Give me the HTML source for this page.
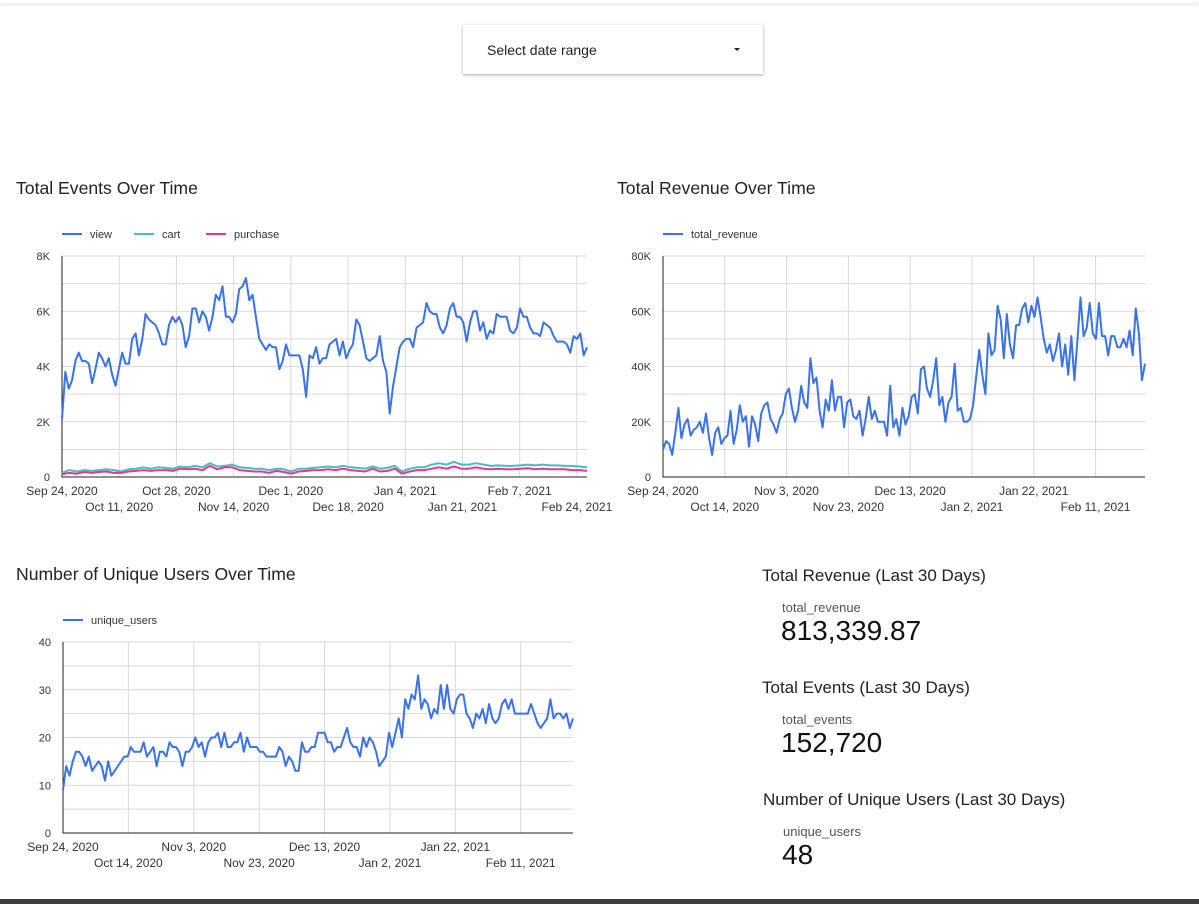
<!DOCTYPE html>
<html><head><meta charset="utf-8">
<style>
body{margin:0;width:1199px;height:904px;background:#fff;font-family:"Liberation Sans",Arial,sans-serif;position:relative;overflow:hidden}
.topbar{position:absolute;left:0;top:0;width:1199px;height:3px;box-shadow:0 1px 4px rgba(0,0,0,.15)}
.dd{position:absolute;left:463px;top:25px;width:300px;height:49px;background:#fff;box-shadow:0 1px 3px rgba(0,0,0,.35);font-size:14px;color:#222}
.dd span{position:absolute;left:24px;top:17px}
.dd i{position:absolute;left:271px;top:23px;width:0;height:0;border-left:3px solid transparent;border-right:3px solid transparent;border-top:3px solid #222}
.bottombar{position:absolute;left:0;top:899px;width:1199px;height:5px;background:#3c3c3c}
.lbl{position:absolute;font-size:17px;color:#222}
.sub{position:absolute;font-size:13px;color:#555}
.val{position:absolute;font-size:28px;color:#111}
svg{position:absolute;left:0;top:0}
</style></head><body>
<div class="topbar"></div>
<div class="dd"><span>Select date range</span><i></i></div>
<div class="lbl" style="left:762px;top:566px">Total Revenue (Last 30 Days)</div>
<div class="sub" style="left:782px;top:600px">total_revenue</div>
<div class="val" style="left:781px;top:615px">813,339.87</div>
<div class="lbl" style="left:762px;top:678px">Total Events (Last 30 Days)</div>
<div class="sub" style="left:782px;top:712px">total_events</div>
<div class="val" style="left:781px;top:727px">152,720</div>
<div class="lbl" style="left:763px;top:790px">Number of Unique Users (Last 30 Days)</div>
<div class="sub" style="left:783px;top:824px">unique_users</div>
<div class="val" style="left:782px;top:839px">48</div>
<div class="bottombar"></div>
<svg id="s" width="1199" height="904"></svg>
<script>
const viewData=[2.1,3.8,3.2,3.5,4.2,4.5,4.2,4.2,4.1,3.4,3.9,4.5,4.3,4.0,4.3,3.7,3.3,3.9,4.5,4.1,4.1,5.0,5.2,4.4,5.0,5.9,5.7,5.6,5.5,5.2,4.8,4.8,5.5,5.8,5.6,5.8,5.5,4.7,5.1,6.1,6.1,5.6,6.0,5.8,5.3,5.8,6.6,6.4,6.9,5.8,5.8,5.6,5.9,6.8,6.9,7.2,6.4,6.6,5.8,5.0,4.8,4.6,4.8,4.7,4.7,3.9,4.2,4.8,4.4,4.4,4.4,4.4,3.9,2.9,4.4,4.3,4.7,4.1,4.3,4.3,4.8,4.9,5.0,4.4,4.9,4.3,4.6,4.8,5.7,5.5,4.9,4.3,4.2,4.3,4.4,5.1,4.2,3.8,2.3,3.3,4.0,4.7,4.9,5.0,5.0,4.7,5.4,5.5,5.6,6.3,6.0,5.9,5.9,5.4,5.2,5.5,6.1,6.3,5.8,5.8,5.6,4.9,5.6,6.0,6.0,5.3,5.6,5.0,5.3,5.2,5.9,5.8,5.8,5.8,5.3,5.2,5.4,6.1,5.8,5.8,5.4,5.2,5.2,5.1,5.6,5.5,5.4,5.1,4.9,4.9,4.9,4.8,4.5,5.1,5.0,5.2,4.4,4.7];
const cartData=[0.15,0.25,0.2,0.25,0.22,0.25,0.28,0.25,0.2,0.28,0.3,0.35,0.3,0.35,0.33,0.3,0.38,0.35,0.4,0.35,0.5,0.38,0.4,0.45,0.35,0.33,0.3,0.3,0.25,0.3,0.28,0.2,0.3,0.3,0.33,0.35,0.38,0.35,0.4,0.35,0.33,0.3,0.38,0.3,0.33,0.4,0.2,0.3,0.35,0.35,0.45,0.5,0.45,0.55,0.45,0.45,0.5,0.45,0.4,0.42,0.4,0.4,0.42,0.45,0.42,0.45,0.42,0.42,0.4,0.4,0.38,0.35];
const purchaseData=[0.1,0.15,0.12,0.18,0.15,0.18,0.2,0.15,0.15,0.2,0.22,0.25,0.22,0.25,0.25,0.22,0.3,0.28,0.3,0.25,0.4,0.28,0.35,0.35,0.25,0.22,0.2,0.2,0.15,0.22,0.18,0.12,0.2,0.22,0.25,0.25,0.28,0.25,0.3,0.25,0.22,0.2,0.3,0.2,0.22,0.3,0.12,0.2,0.25,0.25,0.3,0.35,0.3,0.38,0.3,0.3,0.35,0.3,0.28,0.3,0.28,0.28,0.3,0.32,0.28,0.3,0.28,0.28,0.28,0.25,0.25,0.22];
const revenueData=[10,13,12,8,16,25,14,19,21,15,17,18,20,16,23,14,8,16,18,12,14,15,24,12,17,26,20,22,11,22,19,13,23,26,27,21,19,16,21,23,30,32,25,20,24,33,27,25,43,34,36,24,18,28,24,35,24,29,29,18,27,28,22,21,24,15,21,29,21,24,20,20,20,15,33,18,21,15,25,19,22,29,30,23,39,40,32,29,35,43,26,29,20,27,29,41,24,25,20,20,21,26,36,46,37,30,52,44,46,62,57,43,59,48,43,55,55,61,63,56,62,58,65,58,50,45,48,42,46,52,40,48,37,51,35,50,65,51,54,63,52,50,63,51,51,44,51,51,47,47,50,47,53,44,61,52,35,41];
const usersData=[9,14,12,15,17,17,16,14,16,13,14,15,14,11,15,12,13,14,15,16,16,18,17,17,17,19,16,17,18,14,17,17,16,19,18,18,17,14,17,17,18,20,18,19,16,19,20,20,21,18,21,18,18,19,19,21,17,20,18,18,18,17,17,16,16,16,16,18,17,14,16,15,13,13,19,17,17,18,18,21,21,21,19,19,17,18,18,20,22,19,18,18,16,20,18,20,19,17,14,15,16,21,18,21,24,20,28,26,29,28,33,26,28,27,24,26,25,31,26,31,26,25,28,29,29,25,24,22,25,24,26,23,27,24,23,24,27,28,26,28,25,25,25,25,25,27,25,23,22,23,24,28,24,25,25,24,25,22,24];
const c1Ticks=["0","2K","4K","6K","8K"];
const c1Dates=["Sep 24, 2020","Oct 11, 2020","Oct 28, 2020","Nov 14, 2020","Dec 1, 2020","Dec 18, 2020","Jan 4, 2021","Jan 21, 2021","Feb 7, 2021","Feb 24, 2021"];
const c2Ticks=["0","20K","40K","60K","80K"];
const c2Dates=["Sep 24, 2020","Oct 14, 2020","Nov 3, 2020","Nov 23, 2020","Dec 13, 2020","Jan 2, 2021","Jan 22, 2021","Feb 11, 2021"];
const c3Ticks=["0","10","20","30","40"];

const NS="http://www.w3.org/2000/svg";
const svg=document.getElementById('s');
function el(tag,attrs,txt){const e=document.createElementNS(NS,tag);for(const k in attrs)e.setAttribute(k,attrs[k]);if(txt!==undefined)e.textContent=txt;svg.appendChild(e);return e;}
function chart(o){
  const X=d=>o.l+d*(o.r-o.l)/156;
  const Y=v=>o.b-v/o.max*(o.b-o.t);
  let t=el('text',{x:o.tx,y:o.ty,'font-size':17.6,fill:'#222'},o.title);
  
  
  for(let i=0;i<=8;i++){const y=o.b-i*(o.b-o.t)/8;
    let g=el('line',{x1:o.l,x2:o.r,y1:y,y2:y,stroke:'#d9d9d9','stroke-width':1});
    
    }
  o.ticks.forEach((s,i)=>{const y=o.b-i*(o.b-o.t)/4;
    let tx=el('text',{x:o.l-12,y:y+4,'font-size':11,fill:'#333','text-anchor':'end'},s);
    
    });
  o.dates.forEach((s,i)=>{const x=X(i*o.step);
    if(i>0){let g=el('line',{x1:x,x2:x,y1:o.t,y2:o.b,stroke:'#d9d9d9','stroke-width':1});
      
      }
    let tx=el('text',{x:x,y:o.b+(i%2?34:18),'font-size':12,fill:'#333','text-anchor':'middle'},s);
    
    });
  let ax=el('path',{d:`M${o.l} ${o.t}V${o.b}H${o.r}`,stroke:'#222',fill:'none','stroke-width':1});
  
  
  let lx=o.l;
  o.series.forEach(sr=>{
    const n=sr.data.length;
    const pts=sr.data.map((v,i)=>`${(o.l+i*(o.r-o.l)/(n-1)).toFixed(1)},${Y(v).toFixed(1)}`).join(' ');
    let p=el('polyline',{points:pts,fill:'none',stroke:sr.color,'stroke-width':2,'stroke-linejoin':'round'});
    
    
    let lg=el('line',{x1:lx,x2:lx+20,y1:o.ly,y2:o.ly,stroke:sr.color,'stroke-width':2});
    
    
    let lt=el('text',{x:lx+28,y:o.ly+4,'font-size':11,fill:'#333'},sr.name);
    
    
    lx+=sr.name.length*5.5+50;
  });
}
chart({key:'events',title:'Total Events Over Time',tx:16,ty:194,l:62,r:587,t:256,b:477,max:8,ticks:c1Ticks,dates:c1Dates,step:17,ly:234,
  series:[{name:'view',data:viewData,color:'#3a73e8'},{name:'cart',data:cartData,color:'#46bdc6'},{name:'purchase',data:purchaseData,color:'#e8378d'}]});
chart({key:'revenue',title:'Total Revenue Over Time',tx:617,ty:194,l:663,r:1145,t:256,b:477,max:80,ticks:c2Ticks,dates:c2Dates,step:20,ly:234,
  series:[{name:'total_revenue',data:revenueData,color:'#3a73e8'}]});
chart({key:'users',title:'Number of Unique Users Over Time',tx:16,ty:580,l:63,r:573,t:642,b:833,max:40,ticks:c3Ticks,dates:c2Dates,step:20,ly:620,
  series:[{name:'unique_users',data:usersData,color:'#3a73e8'}]});
</script>
</body></html>
